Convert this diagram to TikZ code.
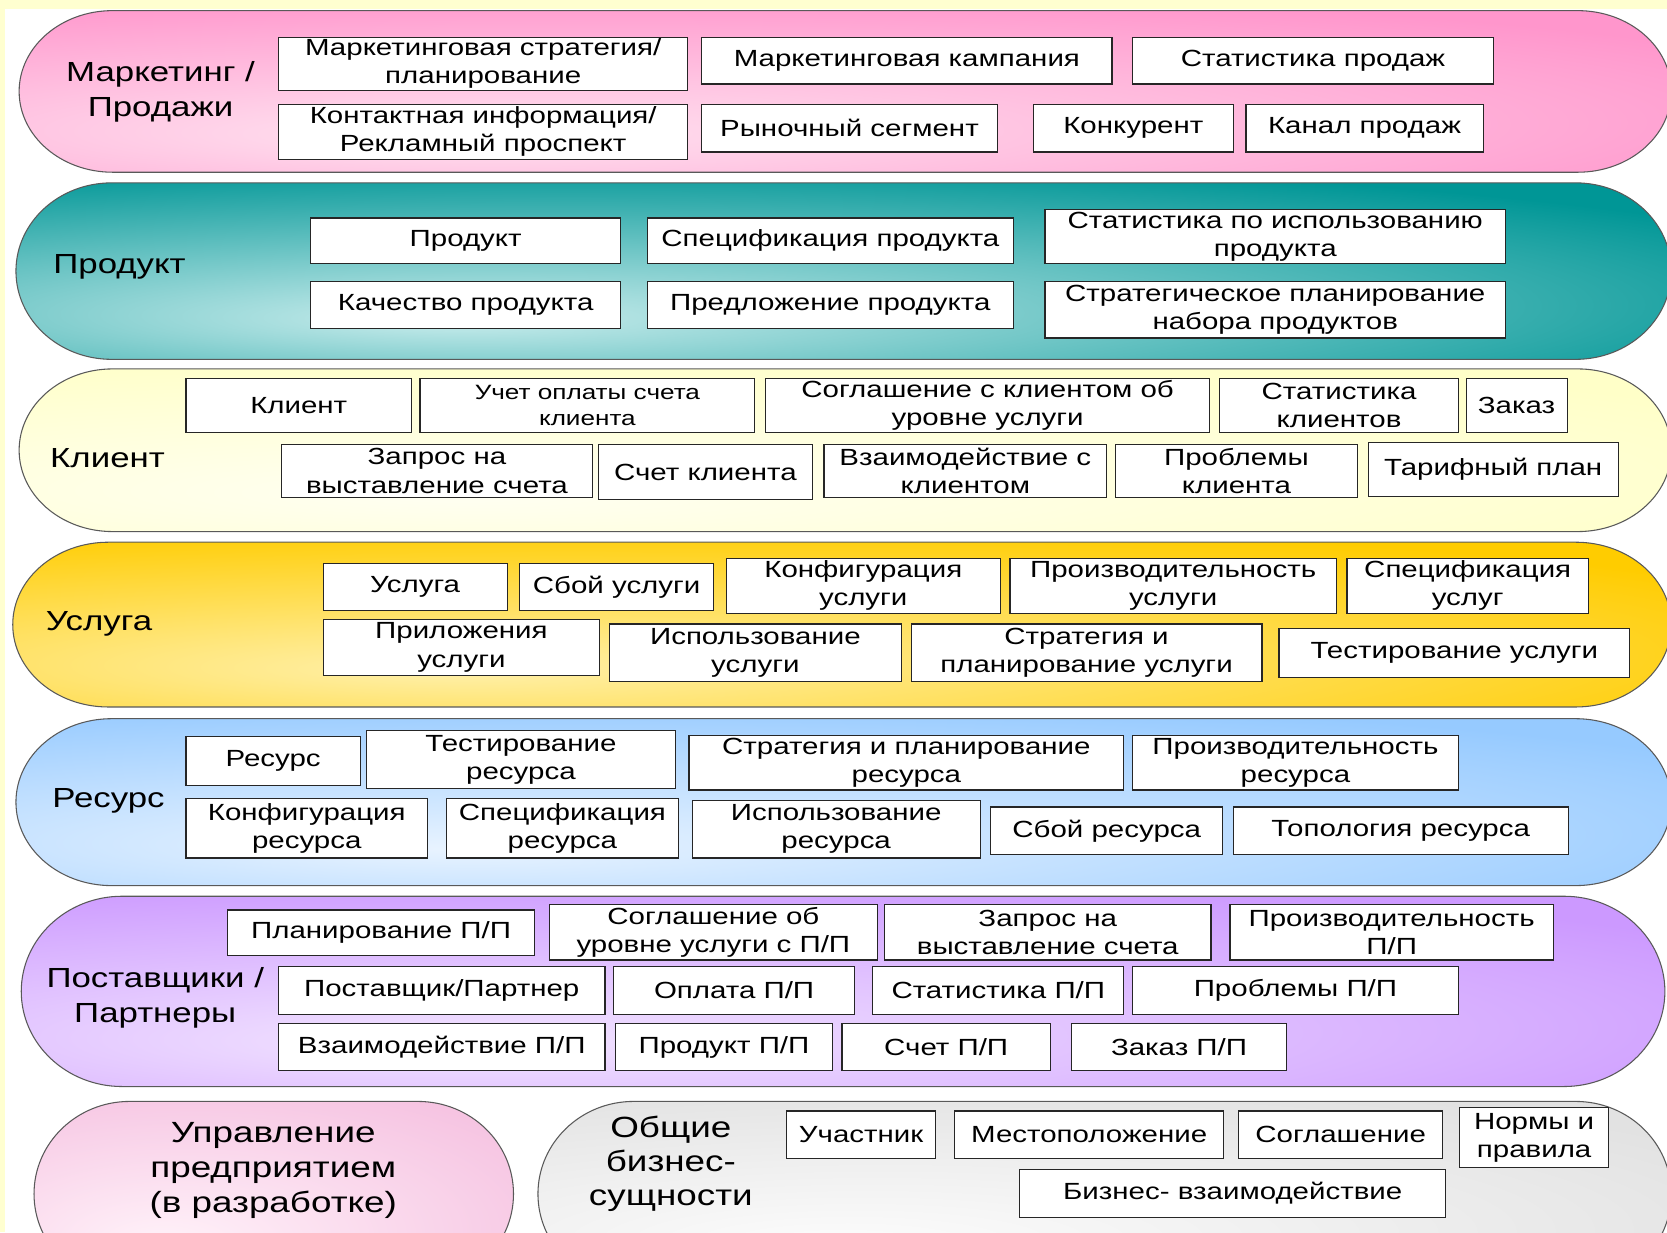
\documentclass[tikz,border=0pt]{standalone}
\usepackage{fontspec}
\setmainfont{Liberation Sans}[FakeStretch=1.26]
\definecolor{bgyel}{RGB}{255,255,208}
\colorlet{bandin}{white}
\colorlet{bandout}{white}
\pgfdeclareradialshading[bandin,bandout]{bandshade}{\pgfpoint{-12bp}{-14bp}}{color(0bp)=(bandin); color(40bp)=(bandout); color(100bp)=(bandout)}
\tikzset{
  bx/.style={draw=black!85, line width=1.1pt, fill=white, inner sep=0pt, outer sep=0pt,
    align=center, font=\fontsize{22}{26.5}\selectfont, anchor=north west},
  lbl/.style={align=center, font=\fontsize{26}{33}\selectfont, inner sep=0pt},
  band/.style={draw=black!65, line width=1pt, shading=bandshade},
}
\newcommand\Bx[7][]{\pgfmathsetmacro\bw{#5-#3}\pgfmathsetmacro\bh{#6-#4}%
  \node[bx,minimum width=\bw pt,minimum height=\bh pt,#1] (#2) at (#3,#4) {#7};}
% x1 y1 x2 y2 rx
\newcommand\pill[5]{\pgfmathsetmacro\ry{(#4-#2)/2}%
  \path[band] (#1+#5,#2) -- (#3-#5,#2) arc[start angle=-90,end angle=90,x radius=#5,y radius=\ry]
   -- (#1+#5,#4) arc[start angle=90,end angle=270,x radius=#5,y radius=\ry] -- cycle;}
\begin{document}
\begin{tikzpicture}[x=1pt,y=-1pt]
\useasboundingbox (0,0) rectangle (1568,1159);
\clip (0,0) rectangle (1568,1159);
\fill[bgyel] (0,0) rectangle (1568,1159);
\fill[white] (5,8) rectangle (1568,1159);

% bands
\colorlet{bandin}{rgb,255:red,255;green,226;blue,240}\colorlet{bandout}{rgb,255:red,255;green,150;blue,204}
\pill{18}{10}{1572}{162}{88}
\colorlet{bandin}{rgb,255:red,200;green,236;blue,236}\colorlet{bandout}{rgb,255:red,0;green,150;blue,150}
\pill{15}{172}{1572}{338}{90}
\colorlet{bandin}{rgb,255:red,255;green,255;blue,242}\colorlet{bandout}{rgb,255:red,255;green,255;blue,200}
\pill{18}{347}{1572}{500}{88}
\colorlet{bandin}{rgb,255:red,255;green,240;blue,170}\colorlet{bandout}{rgb,255:red,255;green,204;blue,0}
\pill{12}{510}{1572}{665}{90}
\colorlet{bandin}{rgb,255:red,232;green,243;blue,255}\colorlet{bandout}{rgb,255:red,150;green,202;blue,255}
\pill{15}{676}{1572}{833}{90}
\colorlet{bandin}{rgb,255:red,242;green,228;blue,255}\colorlet{bandout}{rgb,255:red,204;green,153;blue,255}
\pill{20}{843}{1566}{1022}{95}
\colorlet{bandin}{rgb,255:red,255;green,242;blue,249}\colorlet{bandout}{rgb,255:red,246;green,196;blue,226}
\pill{32}{1036}{483}{1210}{90}
\colorlet{bandin}{rgb,255:red,252;green,252;blue,252}\colorlet{bandout}{rgb,255:red,226;green,226;blue,226}
\pill{506}{1036}{1572}{1210}{90}

% labels
\node[lbl] (lmark) at (151,86) {Маркетинг /\\Продажи};
\node[lbl,anchor=west] (lprod) at (50,251) {Продукт};
\node[lbl,anchor=west] (lcli) at (47,431) {Клиент};
\node[lbl,anchor=west] (lsrv) at (43,587) {Услуга};
\node[lbl,anchor=west] (lres) at (49,753) {Ресурс};
\node[lbl] (lsup) at (146,939) {Поставщики /\\Партнеры};
\node[lbl,font=\fontsize{27.5}{33}\selectfont] (lent) at (257,1101) {Управление\\предприятием\\(в разработке)};
\node[lbl,font=\fontsize{27.5}{32}\selectfont] (lcom) at (631,1095) {Общие\\бизнес-\\сущности};

% marketing
\Bx{m1}{262}{35}{647}{85}{Маркетинговая стратегия/\\планирование}
\Bx{m2}{660}{35}{1046}{79}{Маркетинговая кампания}
\Bx{m3}{1065}{35}{1405}{79}{Статистика продаж}
\Bx{m4}{262}{98}{647}{150}{Контактная информация/\\Рекламный проспект}
\Bx{m5}{660}{98}{938}{143}{Рыночный сегмент}
\Bx{m6}{972}{98}{1160}{143}{Конкурент}
\Bx{m7}{1172}{98}{1395}{143}{Канал продаж}

% product
\Bx{p1}{292}{205}{584}{248}{Продукт}
\Bx{p2}{609}{205}{953}{248}{Спецификация продукта}
\Bx{p3}{983}{197}{1416}{248}{Статистика по использованию\\продукта}
\Bx{p4}{292}{265}{584}{309}{Качество продукта}
\Bx{p5}{609}{265}{953}{309}{Предложение продукта}
\Bx{p6}{983}{265}{1416}{318}{Стратегическое планирование\\набора продуктов}

% client
\Bx{c1}{175}{356}{387}{407}{Клиент}
\Bx[font=\fontsize{19.5}{24}\selectfont]{c2}{395}{356}{710}{407}{Учет оплаты счета\\клиента}
\Bx{c3}{720}{356}{1138}{407}{Соглашение с клиентом об\\уровне услуги}
\Bx{c4}{1147}{356}{1372}{407}{Статистика\\клиентов}
\Bx{c5}{1379}{356}{1474}{407}{Заказ}
\Bx{c6}{265}{418}{557}{468}{Запрос на\\выставление счета}
\Bx{c7}{563}{418}{764}{470}{Счет клиента}
\Bx{c8}{775}{418}{1041}{468}{Взаимодействие с\\клиентом}
\Bx{c9}{1049}{418}{1277}{468}{Проблемы\\клиента}
\Bx{c10}{1287}{416}{1522}{467}{Тарифный план}

% service
\Bx{s1}{304}{530}{477}{574}{Услуга}
\Bx{s2}{489}{530}{671}{574}{Сбой услуги}
\Bx{s3}{683}{525}{941}{577}{Конфигурация\\услуги}
\Bx{s4}{950}{525}{1257}{577}{Производительность\\услуги}
\Bx{s5}{1267}{525}{1494}{577}{Спецификация\\услуг}
\Bx{s6}{304}{583}{564}{635}{Приложения\\услуги}
\Bx{s7}{573}{587}{848}{641}{Использование\\услуги}
\Bx{s8}{857}{587}{1187}{641}{Стратегия и\\планирование услуги}
\Bx{s9}{1203}{591}{1533}{637}{Тестирование услуги}

% resource
\Bx{r1}{175}{693}{339}{739}{Ресурс}
\Bx{r2}{345}{687}{635}{742}{Тестирование\\ресурса}
\Bx{r3}{648}{692}{1057}{743}{Стратегия и планирование\\ресурса}
\Bx{r4}{1065}{692}{1372}{743}{Производительность\\ресурса}
\Bx{r5}{175}{751}{402}{807}{Конфигурация\\ресурса}
\Bx{r6}{420}{751}{638}{807}{Спецификация\\ресурса}
\Bx{r7}{651}{753}{922}{807}{Использование\\ресурса}
\Bx{r8}{932}{759}{1150}{804}{Сбой ресурса}
\Bx{r9}{1160}{759}{1475}{804}{Топология ресурса}

% suppliers / partners
\Bx{q1}{214}{856}{503}{899}{Планирование П/П}
\Bx{q2}{517}{851}{825}{903}{Соглашение об\\уровне услуги с П/П}
\Bx{q3}{832}{851}{1139}{903}{Запрос на\\выставление счета}
\Bx{q4}{1157}{851}{1461}{903}{Производительность\\П/П}
\Bx{q5}{262}{909}{569}{954}{Поставщик/Партнер}
\Bx{q6}{577}{909}{804}{954}{Оплата П/П}
\Bx{q7}{821}{909}{1057}{954}{Статистика П/П}
\Bx{q8}{1065}{909}{1372}{954}{Проблемы П/П}
\Bx{q9}{262}{963}{569}{1007}{Взаимодействие П/П}
\Bx{q10}{579}{963}{783}{1007}{Продукт П/П}
\Bx{q11}{792}{963}{988}{1007}{Счет П/П}
\Bx{q12}{1008}{963}{1210}{1007}{Заказ П/П}

% common business entities
\Bx{g1}{740}{1045}{880}{1090}{Участник}
\Bx{g2}{898}{1045}{1151}{1090}{Местоположение}
\Bx{g3}{1165}{1045}{1357}{1090}{Соглашение}
\Bx{g4}{1373}{1042}{1513}{1098}{Нормы и\\правила}
\Bx{g5}{959}{1100}{1360}{1145}{Бизнес- взаимодействие}
\end{tikzpicture}
\end{document}
